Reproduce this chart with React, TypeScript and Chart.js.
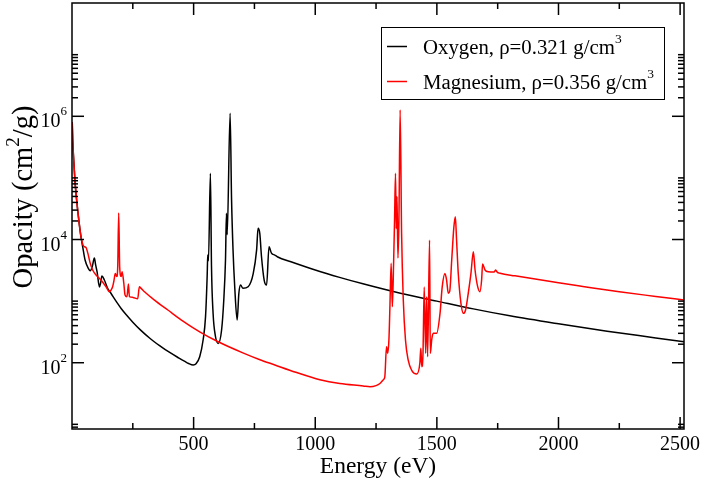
import React, { useEffect, useRef } from "react";
import { Chart, registerables } from "chart.js";

Chart.register(...registerables);

// Opacity spectra (cm^2/g) versus photon energy (eV)
const oxygenEnergy = [
  1, 3, 7, 12, 19, 28, 37, 44, 54, 67, 75, 83, 92, 97, 103, 113, 118, 123, 133, 147,
  160, 188, 202, 224, 250, 280, 320, 360, 400, 440, 464, 480, 498, 510, 525, 539, 549,
  556, 558, 561, 569, 573.5, 580, 590, 601, 615, 624, 631, 635, 638, 650, 656, 662, 669,
  679, 686, 693, 703, 724, 745, 759, 765, 772, 779, 790, 800, 810, 820, 834, 846, 900,
  1000, 1100, 1200, 1350, 1500, 1650, 1800, 2000, 2200, 2400, 2516,
];
const oxygenOpacity = [
  8.0e5, 4.1e5, 1.95e5, 9.2e4, 4.4e4, 2.07e4, 1.1e4, 7.6e3, 4.6e3, 3.4e3, 3.1e3, 3.6e3,
  5.0e3, 3.9e3, 3.0e3, 1.7e3, 2.0e3, 2.55e3, 2.2e3, 1.6e3,
  1.34e3, 910, 760, 595, 455, 345, 250, 190, 148, 119, 105, 97, 92, 96, 125, 234, 560,
  2.8e3, 5.6e3, 4.5e3, 1.19e5, 3.6e3, 634, 264, 206, 340, 1.04e3, 4.6e3, 2.66e4, 1.2e4,
  1.12e6, 4.4e4, 6.8e3, 1.7e3,
  493, 1.34e3, 1.82e3, 1.61e3, 1.71e3, 2.8e3, 6.8e3, 1.52e4, 1.26e4, 5.3e3, 2.2e3, 1.82e3,
  7.6e3, 6.0e3, 5.6e3, 5.2e3, 4.35e3,
  3.2e3, 2.43e3, 1.89e3, 1.34e3, 1.0e3, 748, 577, 428, 324, 253, 219,
];

const magnesiumEnergy = [
  1, 3, 7, 12, 19, 28, 37, 44, 48, 52, 58, 65, 75, 85, 99, 119, 140, 154, 160, 167, 172,
  178, 184, 188, 192, 196, 202, 206, 213, 218, 226, 232, 236, 250, 270, 277, 284, 298,
  339, 394, 450, 525, 601, 700, 770, 834, 920, 1019, 1101, 1197, 1225, 1250, 1266, 1280,
  1286, 1293, 1298, 1303, 1307, 1312, 1317, 1322, 1326, 1330, 1333, 1336, 1340, 1344,
  1349, 1355, 1362, 1371, 1382, 1396, 1417, 1430, 1434, 1438, 1443, 1448, 1454, 1458,
  1462, 1470, 1473, 1479, 1485, 1499, 1513, 1522, 1533, 1540, 1547, 1553, 1561, 1570,
  1576, 1581, 1588, 1599, 1609, 1618, 1629, 1640, 1650, 1657, 1668, 1677, 1684, 1688,
  1698, 1711, 1736, 1742, 1748, 1760, 1821, 2000, 2100, 2250, 2400, 2516,
];
const magnesiumOpacity = [
  8.0e5, 4.1e5, 1.95e5, 9.2e4, 4.4e4, 2.07e4, 1.1e4, 8.4e3, 7.8e3, 7.6e3, 7.4e3, 6.0e3,
  4.1e3, 3.2e3, 2.65e3, 2.2e3, 1.71e3, 1.42e3, 1.5e3, 1.71e3, 2.1e3,
  2.8e3, 2.5e3, 3.6e3, 2.7e4, 3.6e3, 2.5e3, 3.0e3, 1.95e3, 1.26e3, 1.18e3, 1.9e3, 1.18e3,
  1.15e3, 1.09e3, 1.71e3, 1.61e3, 1.42e3,
  1.04e3, 718, 493, 318, 219, 146, 113, 92, 70, 53, 46, 42, 40.7, 42.5, 46, 53,
  59, 182, 142, 240, 811, 4.1e3, 811, 3.9e3, 2.0e4, 1.19e5, 1.5e4, 5.0e4, 5.0e3, 2.0e4,
  1.27e6, 1.26e4, 1.04e3, 234, 111, 76, 65.6, 98, 171, 86, 142, 1.7e3, 142, 1.18e3,
  125, 9.8e3, 142, 240, 300, 300, 634, 1.7e3, 2.8e3, 2.2e3, 1.34e3, 1.45e3, 4.6e3, 1.6e4,
  2.34e4, 9.8e3, 2.8e3, 920, 634, 718, 1.34e3, 2.8e3, 6.3e3, 3.2e3, 1.7e3, 1.42e3, 2.2e3,
  4.0e3, 3.2e3, 3.0e3, 2.98e3, 3.2e3, 2.95e3, 2.83e3, 2.57e3, 1.98e3, 1.73e3, 1.42e3,
  1.19e3, 1.04e3,
];

// Axis ranges and ticks
const xMin = 0;
const xMax = 2516;
const yMin = 8.4;
const yMax = 6.9e7;
const xMajorTicks = [500, 1000, 1500, 2000, 2500];
const xTickLabels = ["500", "1000", "1500", "2000", "2500"];
const xMinorTicks = [250, 750, 1250, 1750, 2250];
const yMajorTicks = [1e2, 1e4, 1e6];
const yTickExponents = ["2", "4", "6"];
const yMinorBases = [1, 1e2, 1e4, 1e6];
const yMinorFactors = [2, 3, 4, 5, 6, 7, 8, 9, 10];

const seriesNames = ["Oxygen, \u03c1=0.321 g/cm", "Magnesium, \u03c1=0.356 g/cm"];
const seriesColors = ["#000000", "#ff0000"];
const xTitle = "Energy (eV)";

const FONT = '"Liberation Serif", "Times New Roman", serif';

type Part = { text: string; size: number; dy?: number };

function partsWidth(ctx: CanvasRenderingContext2D, parts: Part[]) {
  let w = 0;
  for (const p of parts) {
    ctx.font = `${p.size}px ${FONT}`;
    w += ctx.measureText(p.text).width;
  }
  return w;
}

function drawParts(
  ctx: CanvasRenderingContext2D,
  parts: Part[],
  x: number,
  y: number,
  align: "left" | "center" | "right"
) {
  const total = partsWidth(ctx, parts);
  let cx = align === "left" ? x : align === "center" ? x - total / 2 : x - total;
  ctx.textAlign = "left";
  ctx.textBaseline = "alphabetic";
  for (const p of parts) {
    ctx.font = `${p.size}px ${FONT}`;
    ctx.fillText(p.text, cx, y + (p.dy || 0));
    cx += ctx.measureText(p.text).width;
  }
}

const frameAndLabels = {
  id: "frameAndLabels",
  afterDraw(chart: any) {
    const ctx: CanvasRenderingContext2D = chart.ctx;
    const { left, right, top, bottom } = chart.chartArea;
    const xs = chart.scales.x;
    const ys = chart.scales.y;
    const major = 12;
    const minor = 6;

    ctx.save();
    ctx.strokeStyle = "#000";
    ctx.fillStyle = "#000";
    ctx.lineWidth = 1.5;

    const seg = (x1: number, y1: number, x2: number, y2: number) => {
      ctx.beginPath();
      ctx.moveTo(x1, y1);
      ctx.lineTo(x2, y2);
      ctx.stroke();
    };

    // inward ticks on all four sides
    xMajorTicks.forEach((v) => {
      const px = xs.getPixelForValue(v);
      seg(px, bottom, px, bottom - major);
      seg(px, top, px, top + major);
    });
    xMinorTicks.forEach((v) => {
      const px = xs.getPixelForValue(v);
      seg(px, bottom, px, bottom - minor);
      seg(px, top, px, top + minor);
    });
    yMajorTicks.forEach((v) => {
      const py = ys.getPixelForValue(v);
      seg(left, py, left + major, py);
      seg(right, py, right - major, py);
    });
    yMinorBases.forEach((b) => {
      yMinorFactors.forEach((f) => {
        const v = b * f;
        if (v < yMin || v > yMax) return;
        const py = ys.getPixelForValue(v);
        seg(left, py, left + minor, py);
        seg(right, py, right - minor, py);
      });
    });

    ctx.strokeRect(left, top, right - left, bottom - top);

    // tick labels
    xMajorTicks.forEach((v, i) => {
      const px = xs.getPixelForValue(v);
      drawParts(ctx, [{ text: xTickLabels[i], size: 20 }], px, 450, "center");
    });
    yMajorTicks.forEach((v, i) => {
      const py = ys.getPixelForValue(v);
      drawParts(
        ctx,
        [
          { text: "10", size: 20 },
          { text: yTickExponents[i], size: 13, dy: -12 },
        ],
        left - 5,
        py + 11,
        "right"
      );
    });

    // axis titles
    drawParts(ctx, [{ text: xTitle, size: 23.5 }], (left + right) / 2, 473, "center");
    ctx.save();
    ctx.translate(32, 197);
    ctx.rotate(-Math.PI / 2);
    drawParts(
      ctx,
      [
        { text: "Opacity (cm", size: 28.5 },
        { text: "2", size: 19, dy: -13 },
        { text: "/g)", size: 28.5 },
      ],
      0,
      0,
      "center"
    );
    ctx.restore();

    // legend
    ctx.lineWidth = 1;
    ctx.strokeRect(381.5, 27.5, 283, 72);
    const rows = [53.5, 88.5];
    seriesNames.forEach((name, i) => {
      const base = rows[i];
      ctx.strokeStyle = seriesColors[i];
      ctx.lineWidth = 1.5;
      seg(387, base - 7, 407, base - 7);
      ctx.fillStyle = "#000";
      drawParts(
        ctx,
        [
          { text: name, size: 20.8 },
          { text: "3", size: 13.5, dy: -10.5 },
        ],
        423,
        base,
        "left"
      );
    });
    ctx.restore();
  },
};

export default function App() {
  const canvasRef = useRef<HTMLCanvasElement | null>(null);

  useEffect(() => {
    const canvas = canvasRef.current;
    if (!canvas) return;
    const toPoints = (xs: number[], ys: number[]) => xs.map((x, i) => ({ x, y: ys[i] }));
    const chart = new Chart(canvas, {
      type: "line",
      data: {
        datasets: [
          {
            label: seriesNames[0],
            data: toPoints(oxygenEnergy, oxygenOpacity),
            borderColor: seriesColors[0],
            borderWidth: 1.5,
            order: 1,
          },
          {
            label: seriesNames[1],
            data: toPoints(magnesiumEnergy, magnesiumOpacity),
            borderColor: seriesColors[1],
            borderWidth: 1.5,
            order: 0,
          },
        ],
      },
      options: {
        responsive: false,
        animation: false,
        events: [],
        parsing: false,
        layout: { padding: { top: 3, right: 18, left: 0, bottom: 0 } },
        elements: {
          point: { radius: 0 },
          line: { cubicInterpolationMode: "monotone", fill: false },
        },
        plugins: {
          legend: { display: false },
          tooltip: { enabled: false },
        },
        scales: {
          x: {
            type: "linear",
            min: xMin,
            max: xMax,
            bounds: "data",
            grid: { display: false },
            border: { display: false },
            ticks: { display: false },
            afterFit: (s: any) => {
              s.height = 51;
            },
          },
          y: {
            type: "logarithmic",
            min: yMin,
            max: yMax,
            bounds: "data",
            grid: { display: false },
            border: { display: false },
            ticks: { display: false },
            afterFit: (s: any) => {
              s.width = 72;
            },
          },
        },
      },
      plugins: [frameAndLabels],
    } as any);
    return () => chart.destroy();
  }, []);

  return (
    <div
      style={{
        position: "fixed",
        left: 0,
        top: 0,
        width: 702,
        height: 480,
        background: "#ffffff",
      }}
    >
      <canvas ref={canvasRef} width={702} height={480} />
    </div>
  );
}
